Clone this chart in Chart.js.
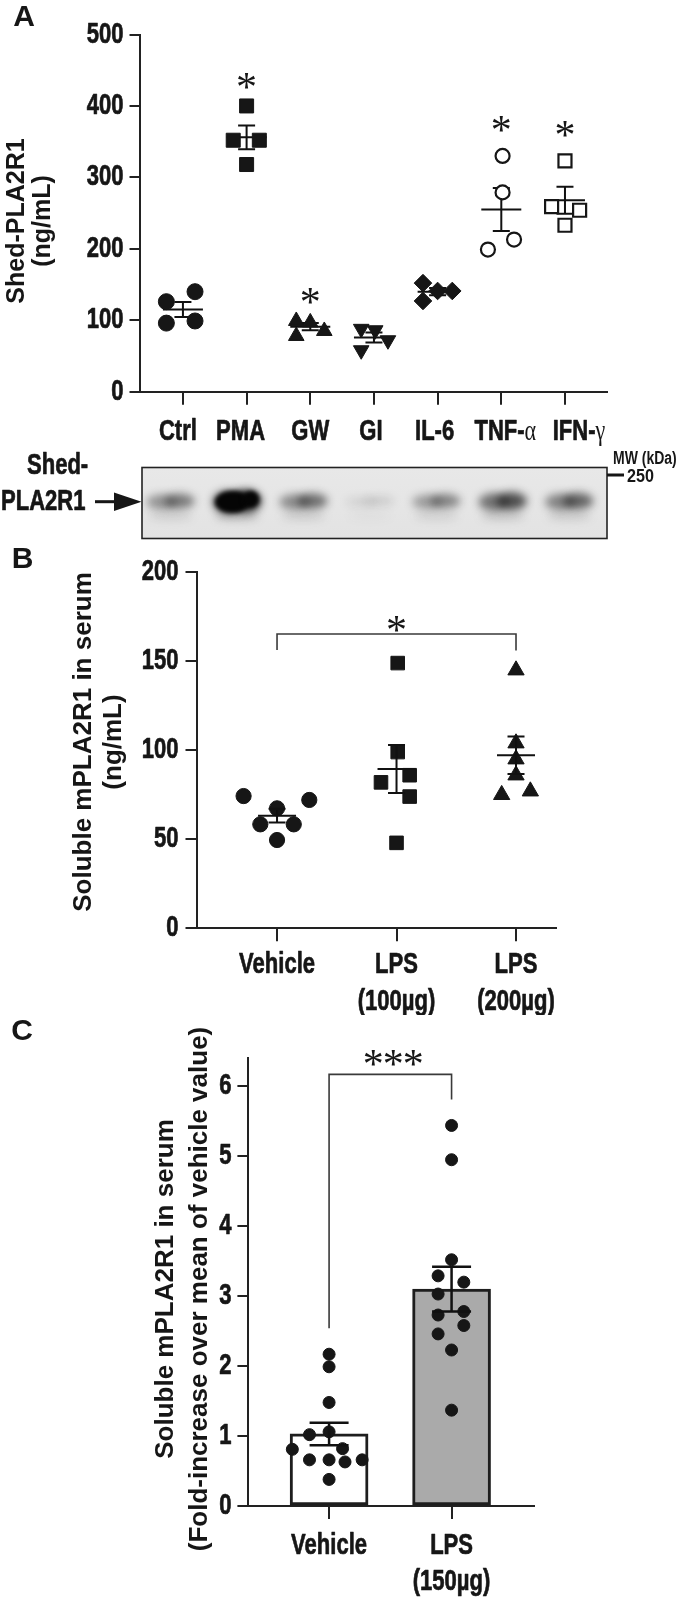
<!DOCTYPE html>
<html><head><meta charset="utf-8">
<script src="https://cdn.jsdelivr.net/npm/chart.js@4.4.0/dist/chart.umd.min.js"></script>
<style>
html,body{margin:0;padding:0;background:#fff;}
body{width:677px;height:1597px;position:relative;overflow:hidden;}
canvas{position:absolute;left:0;}
</style></head><body>
<canvas id="cA" width="677" height="545" style="top:0px"></canvas>
<canvas id="cB" width="677" height="470" style="top:545px"></canvas>
<canvas id="cC" width="677" height="587" style="top:1010px"></canvas>
<script>
// ---------------- Panel A data ----------------
const catsA = ['Ctrl','PMA','GW','GI','IL-6','TNF-α','IFN-γ'];
const yTicksA = [0,100,200,300,400,500];
const ctrlA = [140,126,99,96];
const pmaA  = [400,352,352,318];
const gwA   = [99,97,85,78];
const giA   = [88,86,72,58];
const il6A  = [152,141,141,127];
const tnfA  = [330,279,213,199];
const ifnA  = [323,259,254,233];
const jitterA = [[0.19,-0.26,0.19,-0.26],[0,-0.21,0.2,0],[-0.22,0,0.22,-0.22],[-0.2,0.02,0.22,-0.2],[-0.23,0,0.23,-0.23],[0.02,0.02,0.2,-0.21],[0,-0.21,0.23,0]];
const meanA = [115,356,91,76,140,255,268];
const semA  = [10.5,16.5,5,7,5,30,19];
const starsA = [null,436,135,null,null,376,369];
const bandA = [0.5,1.0,0.55,0.12,0.45,0.7,0.6];

// ---------------- Panel B data ----------------
const catsB = [['Vehicle'],['LPS','(100µg)'],['LPS','(200µg)']];
const yTicksB = [0,50,100,150,200];
const vehB = [74.3,72.1,67.4,58.4,58.4,49.6];
const lps100B = [149,99,86,82,74,48];
const lps200B = [145,104,95,86,75,77];
const jitterB = [[-0.28,0.27,0,-0.14,0.14,0],[0.01,0.01,0.11,-0.13,0.11,0],[0,0,0,0,-0.12,0.12]];
const meanB = [63.3,89.5,97.2];
const semB  = [3.8,13.5,10.5];
const bracketB = [0,2,165.3,156.3,156];   // from, to, top, left-leg end, right-leg end
const starB = [1,171.3];

// ---------------- Panel C data ----------------
const catsC = [['Vehicle'],['LPS','(150µg)']];
const yTicksC = [0,1,2,3,4,5,6];
const vehC = [2.17,1.99,1.48,1.06,1.02,0.81,0.82,0.66,0.66,0.63,0.66,0.38];
const lpsC = [5.44,4.95,3.52,3.29,3.20,3.03,2.78,2.73,2.58,2.46,2.23,1.37];
const jitterC = [[0,0,0,0,-0.16,-0.3,0.11,-0.16,0,0.13,0.27,0],[0,0,0,-0.11,0.1,-0.11,0.1,-0.11,0.1,-0.11,0,0]];
const meanC = [1.03,3.10];
const semC  = [0.16,0.32];
const bracketC = [0,1,6.17,2.54,5.81];
const starC = [0.5,6.42];

// ---------------- helpers ----------------
const FONT = '"Liberation Sans", Arimo, Arial, sans-serif';
const SERIF = '"Liberation Serif", "Times New Roman", serif';
const INK = '#161616';
const LBL = 29, LSX = 0.76;
function txt(ctx, s, x, y, o) {
  ctx.save();
  ctx.translate(x, y);
  if (o.rot) ctx.rotate(o.rot);
  ctx.scale(o.sx || 1, 1);
  ctx.font = (o.weight || 'bold') + ' ' + o.size + 'px ' + (o.family || FONT);
  ctx.textAlign = o.align || 'center';
  ctx.textBaseline = o.base || 'middle';
  ctx.fillStyle = o.color || INK;
  ctx.fillText(s, 0, 0);
  if (o.stroke) { ctx.strokeStyle = o.color || INK; ctx.lineWidth = o.stroke; ctx.lineJoin = 'round'; ctx.strokeText(s, 0, 0); }
  ctx.restore();
}
function label(ctx, s, cx, y) {
  const m = s.match(/^(.*?)([\u03b1-\u03c9]+)$/);
  if (!m) { txt(ctx, s, cx, y, {size: LBL, sx: LSX, stroke: 0.7}); return; }
  ctx.save();
  ctx.font = 'bold ' + LBL + 'px ' + FONT; const w1 = ctx.measureText(m[1]).width * LSX;
  ctx.font = 'normal ' + LBL + 'px ' + SERIF; const w2 = ctx.measureText(m[2]).width * LSX;
  ctx.restore();
  const x0 = cx - (w1 + w2) / 2;
  txt(ctx, m[1], x0, y, {size: LBL, sx: LSX, align: 'left', stroke: 0.7});
  txt(ctx, m[2], x0 + w1, y, {size: LBL, sx: LSX, align: 'left', weight: 'normal', family: SERIF});
}
function star(ctx, x, y, size) {
  txt(ctx, '*', x, y + size * 0.5, {size: size, weight: 'normal', family: SERIF, base: 'alphabetic'});
}
function pts(vals, i, jit) { return vals.map((v, j) => ({x: i + jit[j], y: v})); }

function errBars(chart, means, sems, meanHalf, capHalf, lw) {
  const ctx = chart.ctx, xs = chart.scales.x, ys = chart.scales.y;
  ctx.save(); ctx.strokeStyle = '#111'; ctx.lineWidth = lw;
  means.forEach((m, i) => {
    const x = xs.getPixelForValue(i), ym = ys.getPixelForValue(m);
    const yt = ys.getPixelForValue(m + sems[i]), yb = ys.getPixelForValue(m - sems[i]);
    ctx.beginPath();
    if (meanHalf) { ctx.moveTo(x - meanHalf, ym); ctx.lineTo(x + meanHalf, ym); }
    ctx.moveTo(x, yt); ctx.lineTo(x, yb);
    ctx.moveTo(x - capHalf, yt); ctx.lineTo(x + capHalf, yt);
    ctx.moveTo(x - capHalf, yb); ctx.lineTo(x + capHalf, yb);
    ctx.stroke();
  });
  ctx.restore();
}
function bracket(chart, b) {
  const ctx = chart.ctx, xs = chart.scales.x, ys = chart.scales.y;
  const x0 = xs.getPixelForValue(b[0]), x1 = xs.getPixelForValue(b[1]);
  ctx.save(); ctx.strokeStyle = '#3a3a3a'; ctx.lineWidth = 1.6;
  ctx.beginPath();
  ctx.moveTo(x0, ys.getPixelForValue(b[3]));
  ctx.lineTo(x0, ys.getPixelForValue(b[2]));
  ctx.lineTo(x1, ys.getPixelForValue(b[2]));
  ctx.lineTo(x1, ys.getPixelForValue(b[4]));
  ctx.stroke(); ctx.restore();
}
function yLabels(chart, ticks, gap, tickLen) {
  const ctx = chart.ctx, ys = chart.scales.y;
  const xr = chart.chartArea.left - tickLen - gap;
  ticks.forEach(v => txt(ctx, String(v), xr, ys.getPixelForValue(v), {size: LBL, sx: LSX, align: 'right', stroke: 0.7}));
}
function xLabels(chart, cats, y0, lh, shifts) {
  const ctx = chart.ctx, xs = chart.scales.x;
  cats.forEach((c, i) => {
    const lines = Array.isArray(c) ? c : [c];
    const dx = shifts ? shifts[i] : 0;
    lines.forEach((s, k) => label(ctx, s, xs.getPixelForValue(i) + dx, y0 + k * lh));
  });
}

function makeChart(id, top, H, area, xr, yr, xTicks, yTicks, yTickLen, datasets, under, extra) {
  return new Chart(document.getElementById(id), {
    type: 'scatter',
    data: {datasets},
    options: {
      responsive: false, animation: false, events: [],
      plugins: {legend: {display: false}, tooltip: {enabled: false}},
      layout: {padding: {left: 0, top: area.top - top, right: 677 - area.right, bottom: 0}},
      scales: {
        x: {type: 'linear', min: xr[0], max: xr[1], offset: false,
            afterBuildTicks: s => { s.ticks = xTicks.map(v => ({value: v})); },
            afterFit: s => { s.height = H - (area.bottom - top); },
            ticks: {display: false},
            grid: {offset: false, drawOnChartArea: false, drawTicks: true, tickLength: 13, lineWidth: 2, tickWidth: 2, color: '#222', tickColor: '#222'},
            border: {display: true, width: 2, color: '#222'}},
        y: {type: 'linear', min: yr[0], max: yr[1],
            afterBuildTicks: s => { s.ticks = yTicks.map(v => ({value: v})); },
            afterFit: s => { s.width = area.left; },
            ticks: {display: false},
            grid: {drawOnChartArea: false, drawTicks: true, tickLength: yTickLen, lineWidth: 2, tickWidth: 2, color: '#222', tickColor: '#222'},
            border: {display: true, width: 2, color: '#222'}}
      }
    },
    plugins: [{id: 'extra' + id,
      beforeDatasetsDraw: chart => { if (under) under(chart); },
      afterDraw: chart => extra(chart)}]
  });
}
const filled = (style, r, rot) => ({pointStyle: style, pointRadius: r, pointRotation: rot || 0, backgroundColor: INK, borderColor: INK, borderWidth: 1});
const open = (style, r) => ({pointStyle: style, pointRadius: r, backgroundColor: '#fff', borderColor: INK, borderWidth: 2.2});

// ---------------- Panel A ----------------
const groupsA = [ctrlA, pmaA, gwA, giA, il6A, tnfA, ifnA];
const stylesA = [filled('circle', 8), filled('rect', 9.9), filled('triangle', 9), filled('triangle', 9, 180), filled('rectRot', 8.8), open('circle', 7), open('rect', 9.2)];
const dsA = groupsA.map((g, i) => Object.assign({data: pts(g, i, jitterA[i])}, stylesA[i]));

function drawBlot(ctx) {
  const L = 142, R = 607, T = 467.5, B = 538.5;
  ctx.save();
  const bg = ctx.createLinearGradient(0, T, 0, B);
  bg.addColorStop(0, '#e8e8e8'); bg.addColorStop(1, '#e3e3e3');
  ctx.fillStyle = bg; ctx.fillRect(L, T, R - L, B - T);
  ctx.beginPath(); ctx.rect(L, T, R - L, B - T); ctx.clip();
  const pitch = (R - L) / 7;
  bandA.forEach((a, i) => {
    const cx = L + (i + 0.43) * pitch;
    ctx.filter = 'blur(4px)';
    ctx.fillStyle = 'rgba(60,60,60,' + (0.3 * a) + ')';
    ctx.beginPath(); ctx.ellipse(cx, 516, 22, 4, 0, 0, Math.PI * 2); ctx.fill();
    ctx.fillStyle = 'rgba(25,25,25,' + Math.min(1, 0.8 * a) + ')';
    ctx.beginPath(); ctx.ellipse(cx - 9, 502, 15, 4 + 7 * a, 0, 0, Math.PI * 2); ctx.fill();
    ctx.fillStyle = 'rgba(15,15,15,' + Math.min(1, a) + ')';
    ctx.beginPath(); ctx.ellipse(cx + 9, 501, 15, 4 + 7 * a, 0, 0, Math.PI * 2); ctx.fill();
    if (a > 0.9) {
      ctx.filter = 'blur(2px)';
      ctx.fillStyle = '#050505';
      ctx.beginPath(); ctx.ellipse(cx - 5, 502, 17, 11, 0, 0, Math.PI * 2); ctx.fill();
      ctx.beginPath(); ctx.ellipse(cx + 14, 499, 8, 8, 0, 0, Math.PI * 2); ctx.fill();
    }
  });
  ctx.filter = 'none';
  ctx.restore();
  ctx.strokeStyle = '#222'; ctx.lineWidth = 1.6; ctx.strokeRect(L, T, R - L, B - T);
  // arrow + labels
  ctx.fillStyle = INK;
  ctx.fillRect(95, 500.2, 21, 3);
  ctx.beginPath(); ctx.moveTo(114, 492.5); ctx.lineTo(141.5, 501.7); ctx.lineTo(114, 510.9); ctx.closePath(); ctx.fill();
  txt(ctx, 'Shed-', 57.6, 466, {size: LBL, sx: LSX, stroke: 0.7});
  txt(ctx, 'PLA2R1', 1, 502, {size: LBL, sx: LSX, align: 'left', stroke: 0.7});
  ctx.fillRect(607, 473.5, 17, 3);
  txt(ctx, 'MW (kDa)', 613, 459, {size: 17.5, sx: 0.8, align: 'left'});
  txt(ctx, '250', 627, 477, {size: 19, sx: 0.85, align: 'left'});
}

makeChart('cA', 0, 545, {left: 139.5, right: 607, top: 34.5, bottom: 391.7}, [-0.682, 6.66], [0, 500],
  [0,1,2,3,4,5,6], yTicksA, 10, dsA,
  chart => errBars(chart, meanA, semA, 20, 8.5, 2),
  chart => {
    const ctx = chart.ctx;
    yLabels(chart, yTicksA, 6, 10);
    xLabels(chart, catsA, 432, 36, [-5, -6, 0, -3, -3, 4, 14]);
    starsA.forEach((s, i) => { if (s !== null) star(ctx, chart.scales.x.getPixelForValue(i), chart.scales.y.getPixelForValue(s), 42); });
    txt(ctx, 'A', 24, 18, {size: 30});
    txt(ctx, 'Shed-PLA2R1', 17, 221, {size: 25, rot: -Math.PI / 2});
    txt(ctx, '(ng/mL)', 43, 221, {size: 25, rot: -Math.PI / 2});
    drawBlot(ctx);
  });

// ---------------- Panel B ----------------
const groupsB = [vehB, lps100B, lps200B];
const stylesB = [filled('circle', 7.6), filled('rect', 9.6), filled('triangle', 9.4)];
const dsB = groupsB.map((g, i) => Object.assign({data: pts(g, i, jitterB[i])}, stylesB[i]));
const topB = 545;
makeChart('cB', topB, 470, {left: 196.5, right: 555.8, top: 572.3, bottom: 928.3}, [-0.674, 2.333], [0, 200],
  [0,1,2], yTicksB, 11, dsB, null,
  chart => {
    const ctx = chart.ctx;
    errBars(chart, meanB, semB, 19, 8.5, 2);
    bracket(chart, bracketB);
    star(ctx, chart.scales.x.getPixelForValue(starB[0]), chart.scales.y.getPixelForValue(starB[1]), 42);
    yLabels(chart, yTicksB, 7, 11);
    xLabels(chart, catsB, 965 - topB, 36.5);
    txt(ctx, 'B', 22.5, 560 - topB, {size: 30});
    txt(ctx, 'Soluble mPLA2R1 in serum', 84, 742 - topB, {size: 26, rot: -Math.PI / 2});
    txt(ctx, '(ng/mL)', 114, 742 - topB, {size: 26, rot: -Math.PI / 2});
  });

// ---------------- Panel C ----------------
const topC = 1010;
const dsC = [
  Object.assign({data: pts(vehC, 0, jitterC[0]), order: 1}, filled('circle', 6)),
  Object.assign({data: pts(lpsC, 1, jitterC[1]), order: 1}, filled('circle', 6)),
  {type: 'bar', order: 2, data: meanC.map((m, i) => ({x: i, y: m})), barThickness: 78,
   backgroundColor: ['#ffffff', '#aaaaaa'], borderColor: '#1e1e1e', borderWidth: 3, borderSkipped: false}
];
makeChart('cC', topC, 587, {left: 248, right: 534, top: 1058.3, bottom: 1506}, [-0.662, 1.673], [0, 6.4],
  [0,1], yTicksC, 10.6, dsC, null,
  chart => {
    const ctx = chart.ctx;
    errBars(chart, meanC, semC, 0, 19.5, 2.5);
    bracket(chart, bracketC);
    const sx = chart.scales.x.getPixelForValue(starC[0]) + 3, sy = chart.scales.y.getPixelForValue(starC[1]);
    [-20, 0, 20].forEach(d => star(ctx, sx + d, sy, 42));
    yLabels(chart, yTicksC, 6, 10.6);
    xLabels(chart, catsC, 1546 - topC, 35.7);
    txt(ctx, 'C', 22, 1032 - topC, {size: 30});
    txt(ctx, 'Soluble mPLA2R1 in serum', 166, 1289 - topC, {size: 26, rot: -Math.PI / 2});
    txt(ctx, '(Fold-increase over mean of vehicle value)', 200, 1289 - topC, {size: 26, rot: -Math.PI / 2});
  });
</script>
</body></html>
